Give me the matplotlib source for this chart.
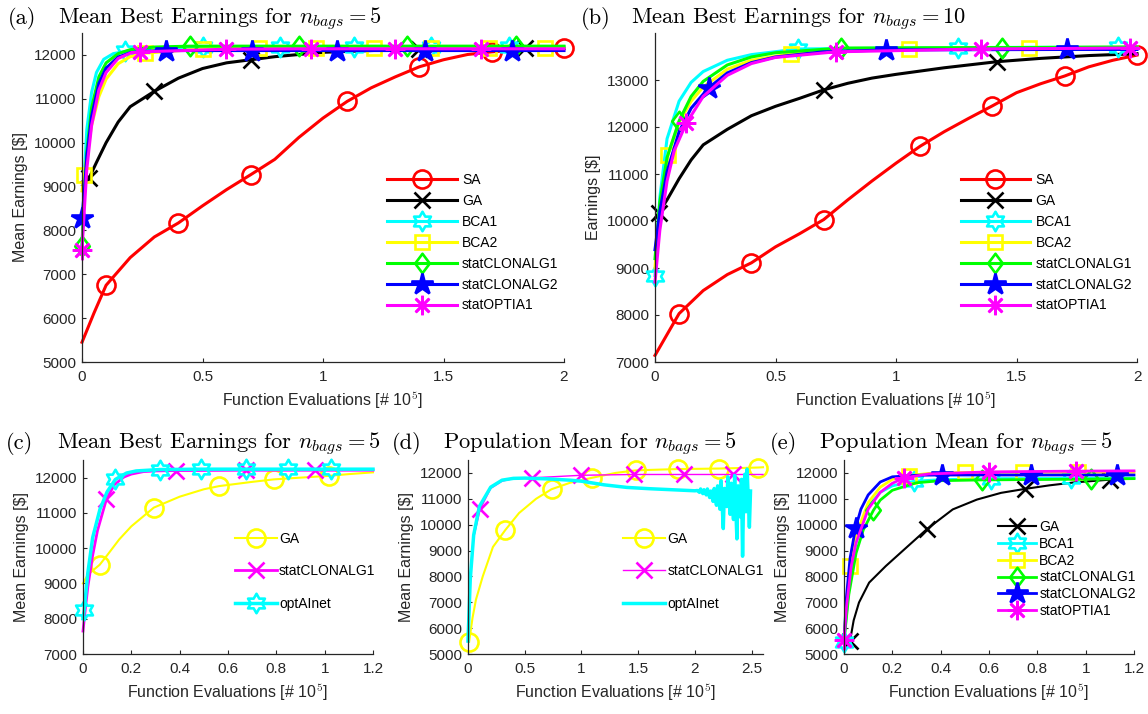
import numpy as np
import matplotlib
matplotlib.use('Agg')
import matplotlib.pyplot as plt
from matplotlib.lines import Line2D
from matplotlib.path import Path
from matplotlib.ticker import FuncFormatter

plt.rcParams['font.family'] = ['Liberation Sans', 'DejaVu Sans']
plt.rcParams['mathtext.fontset'] = 'cm'

# ---------------- (a) mean best earnings, n_bags = 5
a_sa_x = [0, 0.05, 0.1, 0.2, 0.3, 0.4, 0.5, 0.6, 0.7, 0.8, 0.9, 1.0, 1.1, 1.2, 1.3, 1.4, 1.5, 1.6, 1.7, 1.8, 1.9, 2.0]
a_sa_y = [5450, 6120, 6750, 7380, 7850, 8170, 8560, 8930, 9270, 9620, 10120, 10560, 10940, 11250, 11500, 11730, 11890, 12010, 12070, 12110, 12130, 12150]
a_sa_mk = [2, 5, 8, 12, 15, 18, 21]
a_ga_x = [0, 0.03, 0.06, 0.1, 0.15, 0.2, 0.3, 0.4, 0.5, 0.6, 0.7, 0.8, 0.9, 1.0, 1.2, 1.4, 1.6, 1.84, 2.0]
a_ga_y = [9100, 9200, 9550, 10000, 10470, 10820, 11170, 11470, 11690, 11820, 11890, 11960, 12010, 12060, 12100, 12130, 12140, 12150, 12150]
a_ga_mk = [1, 6, 10, 15, 17]
a_bca1_x = [0, 0.01, 0.02, 0.04, 0.06, 0.09, 0.13, 0.18, 0.25, 0.5, 0.82, 1.13, 1.45, 1.77, 2.0]
a_bca1_y = [7600, 9300, 10300, 11150, 11600, 11900, 12030, 12080, 12130, 12170, 12180, 12180, 12190, 12190, 12190]
a_bca1_mk = [7, 9, 10, 11, 12, 13]
a_bca2_x = [0, 0.01, 0.02, 0.04, 0.07, 0.1, 0.15, 0.2, 0.26, 0.5, 0.735, 0.97, 1.21, 1.45, 1.69, 1.92, 2.0]
a_bca2_y = [8900, 9270, 9700, 10400, 11050, 11450, 11800, 11960, 12040, 12140, 12150, 12150, 12150, 12150, 12160, 12160, 12160]
a_bca2_mk = [1, 8, 9, 10, 11, 12, 13, 14, 15]
a_cl1_x = [0, 0.01, 0.02, 0.04, 0.07, 0.1, 0.15, 0.2, 0.3, 0.45, 0.9, 1.35, 1.8, 2.0]
a_cl1_y = [7650, 8900, 9800, 10800, 11500, 11820, 12030, 12120, 12180, 12200, 12200, 12200, 12200, 12200]
a_cl1_mk = [0, 9, 10, 11, 12]
a_cl2_x = [0, 0.01, 0.02, 0.04, 0.07, 0.1, 0.15, 0.2, 0.25, 0.35, 0.705, 1.06, 1.425, 1.785, 2.0]
a_cl2_y = [8290, 8900, 9700, 10600, 11350, 11700, 11950, 12050, 12080, 12100, 12100, 12100, 12100, 12100, 12100]
a_cl2_mk = [0, 9, 10, 11, 12, 13]
a_opt_x = [0, 0.01, 0.02, 0.04, 0.07, 0.1, 0.15, 0.2, 0.24, 0.598, 0.95, 1.3, 1.655, 2.0]
a_opt_y = [7560, 8500, 9400, 10400, 11200, 11600, 11920, 12040, 12070, 12130, 12140, 12140, 12140, 12140]
a_opt_mk = [0, 8, 9, 10, 11, 12]

# ---------------- (b) mean best earnings, n_bags = 10
b_sa_x = [0, 0.1, 0.2, 0.3, 0.4, 0.5, 0.6, 0.7, 0.8, 0.9, 1.0, 1.1, 1.2, 1.3, 1.4, 1.5, 1.6, 1.7, 1.8, 1.9, 2.0]
b_sa_y = [7140, 8030, 8520, 8860, 9110, 9450, 9730, 10030, 10450, 10850, 11230, 11590, 11900, 12180, 12450, 12730, 12920, 13085, 13280, 13420, 13530]
b_sa_mk = [1, 4, 7, 11, 14, 17, 20]
b_ga_x = [0, 0.015, 0.05, 0.1, 0.15, 0.2, 0.3, 0.4, 0.5, 0.6, 0.7, 0.8, 0.9, 1.0, 1.2, 1.42, 1.6, 1.8, 2.0]
b_ga_y = [10050, 10170, 10450, 10900, 11300, 11620, 11950, 12240, 12440, 12610, 12790, 12930, 13040, 13120, 13260, 13390, 13460, 13520, 13560]
b_ga_mk = [1, 10, 15]
b_bca1_x = [0, 0.02, 0.05, 0.1, 0.15, 0.2, 0.3, 0.4, 0.593, 1.258, 1.92, 2.0]
b_bca1_y = [8840, 10500, 11750, 12550, 12950, 13180, 13420, 13540, 13660, 13690, 13700, 13700]
b_bca1_mk = [0, 8, 9, 10]
b_bca2_x = [0, 0.02, 0.054, 0.1, 0.15, 0.2, 0.3, 0.4, 0.566, 1.056, 1.553, 2.0]
b_bca2_y = [9000, 10300, 11410, 12100, 12550, 12850, 13230, 13420, 13560, 13670, 13690, 13700]
b_bca2_mk = [2, 8, 9, 10]
b_cl1_x = [0, 0.02, 0.05, 0.1, 0.15, 0.2, 0.3, 0.4, 0.5, 0.773, 1.438, 2.0]
b_cl1_y = [9200, 10400, 11350, 12130, 12650, 12970, 13320, 13490, 13580, 13680, 13690, 13700]
b_cl1_mk = [3, 9, 10]
b_cl2_x = [0, 0.02, 0.05, 0.1, 0.15, 0.222, 0.3, 0.4, 0.5, 0.7, 0.96, 1.709, 2.0]
b_cl2_y = [9390, 10200, 11050, 11900, 12400, 12830, 13150, 13370, 13490, 13600, 13640, 13650, 13650]
b_cl2_mk = [5, 10, 11]
b_opt_x = [0, 0.02, 0.05, 0.08, 0.13, 0.2, 0.3, 0.4, 0.5, 0.75, 1.354, 1.97, 2.0]
b_opt_y = [8700, 9800, 10850, 11500, 12080, 12650, 13100, 13350, 13480, 13600, 13660, 13680, 13680]
b_opt_mk = [4, 9, 10, 11]

# ---------------- (c) mean best earnings, n_bags = 5 (optAInet)
c_ga_x = [0, 0.02, 0.069, 0.1, 0.15, 0.2, 0.293, 0.4, 0.5, 0.563, 0.7, 0.789, 0.9, 1.017, 1.1, 1.2]
c_ga_y = [9000, 9250, 9530, 9800, 10250, 10620, 11150, 11460, 11670, 11760, 11880, 11950, 12000, 12050, 12100, 12150]
c_ga_mk = [2, 6, 9, 11, 13]
c_cl1_x = [0, 0.01, 0.02, 0.04, 0.06, 0.097, 0.13, 0.17, 0.2, 0.25, 0.3, 0.383, 0.674, 0.962, 1.2]
c_cl1_y = [7650, 8300, 8900, 9800, 10500, 11390, 11800, 12020, 12100, 12170, 12190, 12200, 12210, 12210, 12210]
c_cl1_mk = [5, 11, 12, 13]
c_opt_x = [0, 0.005, 0.02, 0.04, 0.07, 0.1, 0.134, 0.18, 0.22, 0.318, 0.489, 0.674, 0.847, 1.028, 1.2]
c_opt_y = [8000, 8250, 9300, 10300, 11100, 11600, 11950, 12130, 12190, 12230, 12240, 12240, 12240, 12240, 12240]
c_opt_mk = [1, 6, 9, 10, 11, 12, 13]

# ---------------- (d) population mean, n_bags = 5 (optAInet)
d_ga_x = [0.01, 0.04, 0.07, 0.13, 0.22, 0.33, 0.45, 0.6, 0.736, 0.9, 1.09, 1.3, 1.48, 1.7, 1.85, 2.05, 2.21, 2.4, 2.56, 2.6]
d_ga_y = [5470, 6400, 7100, 8000, 9140, 9800, 10450, 11000, 11370, 11620, 11810, 12000, 12100, 12130, 12150, 12160, 12170, 12190, 12210, 12220]
d_ga_mk = [0, 5, 8, 10, 12, 14, 16, 18]
d_cl1_x = [0, 0.02, 0.05, 0.108, 0.2, 0.3, 0.4, 0.56, 1.0, 1.46, 1.905, 2.34, 2.6]
d_cl1_y = [5500, 7800, 9500, 10600, 11400, 11680, 11780, 11810, 11910, 11940, 11940, 11940, 11940]
d_cl1_mk = [3, 7, 8, 9, 10, 11]
d_opt_x = [0, 0.02, 0.05, 0.1, 0.2, 0.3, 0.4, 0.5, 0.7, 0.9, 1.0, 1.2, 1.4, 1.6, 1.8, 2.0,
           2.02, 2.04, 2.05, 2.07, 2.08, 2.10, 2.11, 2.13, 2.14, 2.16, 2.17, 2.19, 2.20, 2.22,
           2.23, 2.25, 2.26, 2.28, 2.29, 2.31, 2.32, 2.34, 2.35, 2.37, 2.38, 2.40, 2.41, 2.42,
           2.43, 2.44, 2.45, 2.46, 2.47, 2.48, 2.49]
d_opt_y = [5500, 7900, 9600, 10700, 11450, 11720, 11790, 11800, 11770, 11720, 11680, 11540, 11440, 11390, 11350, 11310,
           11320, 11250, 11380, 11200, 11350, 11150, 11380, 11050, 11300, 10900, 11400, 10750, 11500, 10600,
           11700, 9850, 11400, 10700, 11850, 10400, 11600, 10200, 11900, 9450, 11500, 10300, 11750, 8780,
           11300, 11950, 10500, 12150, 11000, 9900, 11300]

# ---------------- (e) population mean, n_bags = 5
e_ga_x = [0.025, 0.04, 0.062, 0.104, 0.173, 0.242, 0.342, 0.45, 0.55, 0.65, 0.747, 0.85, 0.95, 1.1, 1.2]
e_ga_y = [5510, 6300, 6990, 7760, 8400, 8980, 9820, 10590, 10970, 11230, 11380, 11520, 11630, 11740, 11800]
e_ga_mk = [0, 6, 10, 13]
e_bca1_x = [0, 0.02, 0.05, 0.1, 0.15, 0.2, 0.29, 0.4, 0.61, 0.94, 1.2]
e_bca1_y = [5450, 7600, 9300, 10700, 11250, 11500, 11680, 11740, 11780, 11790, 11800]
e_bca1_mk = [0, 6, 8, 9]
e_bca2_x = [0, 0.01, 0.025, 0.05, 0.1, 0.15, 0.2, 0.27, 0.35, 0.5, 0.74, 0.97, 1.2]
e_bca2_y = [5500, 7000, 8400, 9600, 10850, 11450, 11750, 11900, 11980, 12020, 12030, 12030, 12030]
e_bca2_mk = [2, 7, 9, 10, 11]
e_cl1_x = [0, 0.02, 0.05, 0.08, 0.122, 0.15, 0.2, 0.3, 0.4, 0.57, 1.02, 1.2]
e_cl1_y = [5500, 7300, 8900, 9800, 10560, 10950, 11330, 11620, 11700, 11730, 11760, 11780]
e_cl1_mk = [4, 9, 10]
e_cl2_x = [0, 0.01, 0.025, 0.048, 0.07, 0.1, 0.15, 0.2, 0.3, 0.406, 0.772, 1.13, 1.2]
e_cl2_y = [5500, 7200, 8700, 9880, 10600, 11150, 11650, 11850, 11910, 11920, 11920, 11920, 11920]
e_cl2_mk = [3, 9, 10, 11]
e_opt_x = [0, 0.01, 0.03, 0.05, 0.1, 0.15, 0.2, 0.249, 0.35, 0.598, 0.959, 1.2]
e_opt_y = [5550, 6800, 8400, 9300, 10600, 11250, 11600, 11810, 11960, 12040, 12070, 12080]
e_opt_mk = [0, 7, 9, 10]


# marker shapes that matplotlib lacks (MATLAB hexagram and diamond)
ang = np.deg2rad(np.arange(12) * 30 + 90)
rad = np.where(np.arange(12) % 2 == 0, 1.0, 0.577)
hex_v = list(zip(rad * np.cos(ang), rad * np.sin(ang)))
HEXAGRAM = Path(hex_v + [hex_v[0]], closed=True)
DIAMOND = Path([(0, 1), (0.75, 0), (0, -1), (-0.75, 0), (0, 1)], closed=True)
ASTER = (8, 2, 0)

GREY = '#262626'

# color, marker, size, filled
ST = {
    'SA': ('red', 'o', 13, False),
    'GA': ('black', 'x', 11, False),
    'BCA1': ('cyan', HEXAGRAM, 14, False),
    'BCA2': ('yellow', 's', 10, False),
    'statCLONALG1': ((0, 1, 0), DIAMOND, 14, False),
    'statCLONALG2': ('blue', '*', 16, True),
    'statOPTIA1': ('magenta', ASTER, 14, False),
    'GAy': ('yellow', 'o', 13, False),
    'CL1m': ('magenta', 'x', 11, False),
    'optAInet': ('cyan', HEXAGRAM, 14, False),
    'optAInet_line': ('cyan', None, 0, False),
}


def draw(ax, x, y, marks, key, lw):
    c, m, ms, filled = ST[key]
    kw = dict(color=c, lw=lw, marker=m, ms=ms, mew=1.9,
              mfc=c if filled else 'none', mec=c)
    ax.plot(x, y, markevery=marks, clip_on=False, **kw)
    return Line2D([0], [0], **kw)


def setup(ax, xlim, xticks, ylim, yticks, ylabel):
    ax.set_xlim(xlim)
    ax.set_ylim(ylim)
    ax.set_xticks(xticks)
    ax.set_yticks(yticks)
    fmt = FuncFormatter(lambda v, p: '%g' % v)
    ax.xaxis.set_major_formatter(fmt)
    ax.yaxis.set_major_formatter(fmt)
    for s in ['top', 'right']:
        ax.spines[s].set_visible(False)
    for s in ['left', 'bottom']:
        ax.spines[s].set_color(GREY)
        ax.spines[s].set_linewidth(0.9)
    ax.tick_params(direction='in', length=3, width=0.8, colors=GREY, labelsize=11)
    ax.tick_params(axis='x', pad=6)
    ax.tick_params(axis='y', pad=4)
    ax.set_xlabel(r'Function Evaluations [# 10$^{\mathsf{5}}$]', fontsize=11.5, color=GREY)
    ax.set_ylabel(ylabel, fontsize=11.5, color=GREY)


def legend(ax, handles, labels, anchor, hl, hp, ls):
    ax.legend(handles, labels, loc='upper left', bbox_to_anchor=anchor, frameon=False,
              fontsize=10, handlelength=hl, handletextpad=hp, labelspacing=ls,
              borderpad=0, borderaxespad=0)


def title(fig, tag, text, x0, x1, y):
    fig.text(x0, y, tag, family='cmr10', fontsize=16.2, va='baseline')
    fig.text(x1, y, text, family='cmr10', fontsize=16.2, va='baseline')


fig = plt.figure(figsize=(11.48, 7.14), dpi=100)
W, H = 1148, 714
ax_a = fig.add_axes([82 / W, 1 - 362 / H, 482 / W, 329 / H])
ax_b = fig.add_axes([655 / W, 1 - 362 / H, 482 / W, 329 / H])
ax_c = fig.add_axes([83 / W, 1 - 654 / H, 290 / W, 194 / H])
ax_d = fig.add_axes([468 / W, 1 - 654 / H, 295 / W, 194 / H])
ax_e = fig.add_axes([844 / W, 1 - 654 / H, 290 / W, 194 / H])

names7 = ['SA', 'GA', 'BCA1', 'BCA2', 'statCLONALG1', 'statCLONALG2', 'statOPTIA1']

# (a)
h = []
h.append(draw(ax_a, a_sa_x, a_sa_y, a_sa_mk, 'SA', 2.2))
h.append(draw(ax_a, a_ga_x, a_ga_y, a_ga_mk, 'GA', 2.2))
h.append(draw(ax_a, a_bca1_x, a_bca1_y, a_bca1_mk, 'BCA1', 2.2))
h.append(draw(ax_a, a_bca2_x, a_bca2_y, a_bca2_mk, 'BCA2', 2.2))
h.append(draw(ax_a, a_cl1_x, a_cl1_y, a_cl1_mk, 'statCLONALG1', 2.2))
h.append(draw(ax_a, a_cl2_x, a_cl2_y, a_cl2_mk, 'statCLONALG2', 2.2))
h.append(draw(ax_a, a_opt_x, a_opt_y, a_opt_mk, 'statOPTIA1', 2.2))
setup(ax_a, (0, 2), [0, 0.5, 1, 1.5, 2], (5000, 12500), range(5000, 12001, 1000), r'Mean Earnings [\$]')
legend(ax_a, h, names7, (0.633, 0.575), 5.0, 0.4, 0.5)

# (b)
h = []
h.append(draw(ax_b, b_sa_x, b_sa_y, b_sa_mk, 'SA', 2.2))
h.append(draw(ax_b, b_ga_x, b_ga_y, b_ga_mk, 'GA', 2.2))
h.append(draw(ax_b, b_bca1_x, b_bca1_y, b_bca1_mk, 'BCA1', 2.2))
h.append(draw(ax_b, b_bca2_x, b_bca2_y, b_bca2_mk, 'BCA2', 2.2))
h.append(draw(ax_b, b_cl1_x, b_cl1_y, b_cl1_mk, 'statCLONALG1', 2.2))
h.append(draw(ax_b, b_cl2_x, b_cl2_y, b_cl2_mk, 'statCLONALG2', 2.2))
h.append(draw(ax_b, b_opt_x, b_opt_y, b_opt_mk, 'statOPTIA1', 2.2))
setup(ax_b, (0, 2), [0, 0.5, 1, 1.5, 2], (7000, 14000), range(7000, 13001, 1000), r'Earnings [\$]')
legend(ax_b, h, names7, (0.634, 0.575), 5.0, 0.4, 0.5)

# (c)
h = []
h.append(draw(ax_c, c_ga_x, c_ga_y, c_ga_mk, 'GAy', 1.5))
h.append(draw(ax_c, c_cl1_x, c_cl1_y, c_cl1_mk, 'CL1m', 2.0))
h.append(draw(ax_c, c_opt_x, c_opt_y, c_opt_mk, 'optAInet', 2.5))
setup(ax_c, (0, 1.2), [0, 0.2, 0.4, 0.6, 0.8, 1, 1.2], (7000, 12500), range(7000, 12001, 1000), r'Mean Earnings [\$]')
legend(ax_c, h, ['GA', 'statCLONALG1', 'optAInet'], (0.525, 0.63), 3.0, 0.15, 1.33)

# (d)
h = []
h.append(draw(ax_d, d_ga_x, d_ga_y, d_ga_mk, 'GAy', 1.5))
h.append(draw(ax_d, d_cl1_x, d_cl1_y, d_cl1_mk, 'CL1m', 1.0))
h.append(draw(ax_d, d_opt_x, d_opt_y, None, 'optAInet_line', 2.5))
setup(ax_d, (0, 2.6), [0, 0.5, 1, 1.5, 2, 2.5], (5000, 12500), range(5000, 12001, 1000), r'Mean Earnings [\$]')
legend(ax_d, h, ['GA', 'statCLONALG1', 'optAInet'], (0.527, 0.63), 3.0, 0.15, 1.33)

# (e)
h = []
h.append(draw(ax_e, e_ga_x, e_ga_y, e_ga_mk, 'GA', 1.5))
h.append(draw(ax_e, e_bca1_x, e_bca1_y, e_bca1_mk, 'BCA1', 2.0))
h.append(draw(ax_e, e_bca2_x, e_bca2_y, e_bca2_mk, 'BCA2', 2.0))
h.append(draw(ax_e, e_cl1_x, e_cl1_y, e_cl1_mk, 'statCLONALG1', 2.0))
h.append(draw(ax_e, e_cl2_x, e_cl2_y, e_cl2_mk, 'statCLONALG2', 2.0))
h.append(draw(ax_e, e_opt_x, e_opt_y, e_opt_mk, 'statOPTIA1', 2.0))
setup(ax_e, (0, 1.2), [0, 0.2, 0.4, 0.6, 0.8, 1, 1.2], (5000, 12500), range(5000, 12001, 1000), r'Mean Earnings [\$]')
legend(ax_e, h, names7[1:], (0.532, 0.69), 2.75, 0.2, 0.2)

# panel titles
tb = r'$n_{bags} = 5$'
title(fig, '(a)', 'Mean Best Earnings for ' + tb, 8 / W, 58 / W, 1 - 24 / H)
title(fig, '(b)', r'Mean Best Earnings for $n_{bags} = 10$', 581 / W, 631 / W, 1 - 24 / H)
title(fig, '(c)', 'Mean Best Earnings for ' + tb, 6 / W, 57 / W, 1 - 449 / H)
title(fig, '(d)', 'Population Mean for ' + tb, 392 / W, 443 / W, 1 - 449 / H)
title(fig, '(e)', 'Population Mean for ' + tb, 770 / W, 819 / W, 1 - 449 / H)

fig.savefig('out.png', dpi=100)
